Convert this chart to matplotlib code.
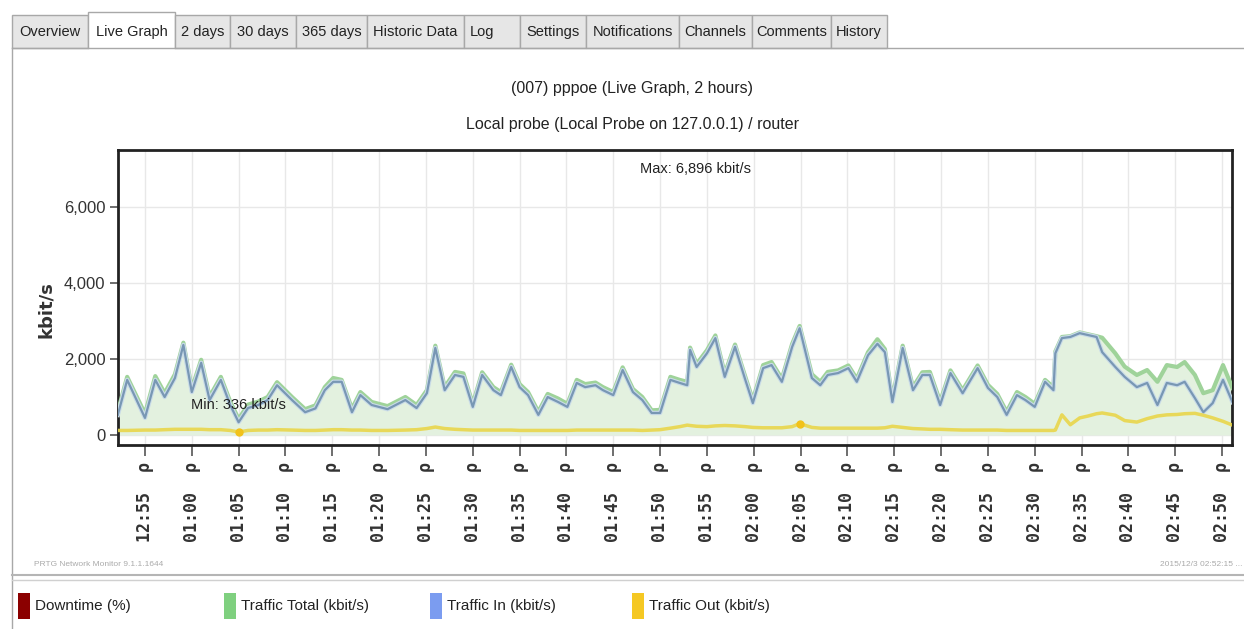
import matplotlib
matplotlib.use("Agg")
import matplotlib.pyplot as plt
from matplotlib.patches import Rectangle
import numpy as np

plt.rcParams["font.family"] = ["Liberation Sans Narrow", "Liberation Sans", "DejaVu Sans"]

# ── Data (minutes after 12:55, kbit/s) ───────────────────────────────────────
minutes = [
    -2.9, -1.9, 0.0, 1.1, 2.1, 3.2, 4.1, 5.0, 6.0, 6.9, 8.1, 9.1, 10.0, 11.0,
    12.1, 13.1, 14.1, 15.7, 17.1, 18.2, 19.2, 20.1, 21.0, 22.1, 23.0, 24.2,
    25.9, 27.8, 29.0, 30.1, 31.0, 32.0, 33.1, 34.0, 35.0, 36.0, 37.2, 38.0,
    39.1, 40.0, 40.9, 42.0, 43.0, 44.1, 45.1, 46.1, 47.0, 48.1, 48.9, 50.0,
    51.0, 52.1, 53.1, 54.1, 55.0, 56.1, 57.1, 57.9, 58.2, 58.9, 60.0, 60.9,
    61.9, 63.0, 64.1, 64.9, 66.0, 66.9, 68.0, 69.1, 69.9, 71.2, 72.1, 72.9,
    74.0, 75.1, 76.0, 77.2, 78.2, 79.0, 79.8, 80.9, 82.0, 83.0, 83.8, 84.9,
    86.0, 87.3, 88.9, 90.0, 91.0, 92.0, 93.1, 94.0, 95.0, 96.1, 97.0, 97.2,
    97.9, 98.8, 99.8, 100.7, 101.6, 102.2, 103.6, 104.6, 105.9, 107.0, 108.1,
    109.1, 110.2, 111.0, 112.1, 113.0, 114.0, 115.1, 116.1,
]
traffic_in = [
    530, 1450, 450, 1450, 1000, 1500, 2370, 1130, 1900, 920, 1450, 790, 336, 710,
    790, 920, 1310, 920, 600, 700, 1180, 1400, 1400, 600, 1050, 790,
    680, 920, 710, 1100, 2290, 1180, 1580, 1530, 740, 1580, 1180, 1050,
    1790, 1260, 1050, 530, 1000, 870, 740, 1370, 1260, 1310, 1180, 1050,
    1710, 1130, 920, 580, 580, 1450, 1370, 1310, 2240, 1790, 2150, 2550,
    1530, 2320, 1450, 840, 1760, 1840, 1400, 2320, 2810, 1500, 1310, 1580,
    1630, 1760, 1400, 2100, 2400, 2180, 870, 2290, 1180, 1580, 1580, 790,
    1630, 1100, 1760, 1240, 1000, 530, 1050, 920, 740, 1400, 1180, 2150,
    2550, 2580, 2680, 2630, 2580, 2180, 1790, 1530, 1260, 1370, 790,
    1370, 1310, 1400, 970, 600, 840, 1450, 870,
]
traffic_total = [
    620, 1530, 560, 1550, 1100, 1600, 2430, 1220, 1980, 1010, 1530, 880, 420, 800,
    880, 1000, 1390, 1000, 680, 780, 1260, 1500, 1450, 690, 1130, 870,
    760, 1000, 790, 1180, 2350, 1260, 1660, 1620, 820, 1650, 1260, 1130,
    1850, 1340, 1130, 610, 1080, 960, 820, 1450, 1340, 1380, 1260, 1130,
    1780, 1210, 1000, 650, 660, 1530, 1450, 1400, 2300, 1870, 2230, 2620,
    1620, 2380, 1530, 920, 1840, 1920, 1480, 2400, 2870, 1600, 1400, 1660,
    1700, 1830, 1480, 2180, 2520, 2260, 960, 2350, 1260, 1650, 1660, 880,
    1700, 1180, 1830, 1320, 1080, 610, 1130, 1000, 820, 1450, 1260, 2200,
    2580, 2600, 2700, 2650, 2600, 2560, 2150, 1800, 1580, 1710, 1400,
    1840, 1790, 1920, 1580, 1100, 1180, 1840, 1240,
]
traffic_out = [
    120, 120, 130, 130, 140, 150, 150, 150, 150, 140, 140, 120, 80, 120,
    130, 130, 140, 130, 120, 120, 130, 140, 140, 130, 130, 120,
    120, 130, 140, 170, 210, 170, 150, 140, 130, 130, 130, 130,
    130, 120, 120, 120, 120, 120, 120, 130, 130, 130, 130, 130,
    130, 130, 120, 130, 140, 180, 220, 260, 250, 230, 220, 240,
    250, 240, 220, 200, 190, 190, 190, 220, 300, 200, 180, 180,
    180, 180, 180, 180, 180, 190, 230, 200, 170, 160, 150, 150,
    140, 130, 130, 130, 130, 120, 120, 120, 120, 120, 120, 130,
    530, 270, 450, 500, 560, 580, 520, 380, 340, 430, 500,
    530, 540, 560, 570, 520, 450, 360, 260,
]
marker_minutes = [10.0, 69.9]
max_value = 6896

tick_labels = ["12:55", "01:00", "01:05", "01:10", "01:15", "01:20", "01:25",
               "01:30", "01:35", "01:40", "01:45", "01:50", "01:55", "02:00",
               "02:05", "02:10", "02:15", "02:20", "02:25", "02:30", "02:35",
               "02:40", "02:45", "02:50"]
tick_minutes = [5 * i for i in range(len(tick_labels))]

tabs = ["Overview", "Live Graph", "2 days", "30 days", "365 days", "Historic Data",
        "Log", "Settings", "Notifications", "Channels", "Comments", "History"]
tab_edges = [12, 88, 175, 230, 296, 367, 464, 520, 586, 679, 752, 831, 887]

legend_names = ["Downtime (%)", "Traffic Total (kbit/s)", "Traffic In (kbit/s)",
                "Traffic Out (kbit/s)"]
legend_colors = ["#8b0000", "#7fd07f", "#7b9cf0", "#f5c823"]
legend_x = [18, 224, 430, 632]

c_total = "#9fd39a"
c_in = "#7897b4"
c_out = "#e9d64a"

t = np.array(minutes)
v_in = np.array(traffic_in)
v_tot = np.array(traffic_total)
v_out = np.array(traffic_out)

# ── Figure & background (pixel coordinates) ───────────────────────────────────
fig = plt.figure(figsize=(12.44, 6.29), dpi=100)
bg = fig.add_axes([0, 0, 1, 1])
bg.set_xlim(0, 1244)
bg.set_ylim(629, 0)
bg.axis("off")

# tabs
for i, name in enumerate(tabs):
    x0, x1 = tab_edges[i], tab_edges[i + 1]
    active = name == "Live Graph"
    top = 12 if active else 15
    bg.add_patch(Rectangle((x0, top), x1 - x0, 48 - top,
                           facecolor="white" if active else "#e6e6e6",
                           edgecolor="#a8a8a8", lw=1, zorder=2))
    bg.text((x0 + x1) / 2 if name != "Log" else x0 + 6, 32, name,
            ha="center" if name != "Log" else "left", va="center",
            fontsize=10.5, color="#222222", zorder=3)
bg.plot([12, 88], [48, 48], color="#a8a8a8", lw=1)
bg.plot([175, 1244], [48, 48], color="#a8a8a8", lw=1)
bg.plot([12, 12], [48, 629], color="#a8a8a8", lw=1)
bg.plot([12, 1244], [575, 575], color="#b5b5b5", lw=1.5)
bg.plot([12, 1244], [580, 580], color="#d0d0d0", lw=1)

# titles
bg.text(632, 88, "(007) pppoe (Live Graph, 2 hours)", ha="center", va="center",
        fontsize=11.5, color="#222222")
bg.text(632, 124, "Local probe (Local Probe on 127.0.0.1) / router", ha="center",
        va="center", fontsize=11.5, color="#222222")

# footer
bg.text(34, 564, "PRTG Network Monitor 9.1.1.1644", ha="left", va="center",
        fontsize=6, color="#aaaaaa")
bg.text(1243, 564, "2015/12/3 02:52:15 ...", ha="right", va="center",
        fontsize=6, color="#aaaaaa")

# legend row
for name, col, lx in zip(legend_names, legend_colors, legend_x):
    bg.add_patch(Rectangle((lx, 593), 12, 26, facecolor=col, edgecolor="none"))
    bg.text(lx + 17, 606, name, ha="left", va="center", fontsize=11,
            color="#222222")

# ── Chart ─────────────────────────────────────────────────────────────────────
ax = fig.add_axes([118 / 1244, 1 - 445 / 629, 1114 / 1244, 295 / 629])
ax.set_facecolor("white")

ax.fill_between(t, 0, v_tot, color="#e3f1df", lw=0, zorder=1)
ax.plot(t, v_tot, color=c_total, lw=3, zorder=3)
ax.plot(t, v_in, color="#c9dbe8", lw=3.2, zorder=4)
ax.plot(t, v_in, color=c_in, lw=1.6, zorder=5)
ax.plot(t, v_out, color=c_out, lw=2.5, alpha=0.9, zorder=4)
ax.plot(marker_minutes, np.interp(marker_minutes, t, v_out), "o",
        color="#f2c21a", ms=5, zorder=6)

i_min = int(np.argmin(v_in))
ax.text(t[i_min], v_in[i_min] + 280, f"Min: {v_in[i_min]:,} kbit/s",
        ha="center", va="bottom", fontsize=10.5, color="#222222", zorder=7)
ax.text(58.8, 7000, f"Max: {max_value:,} kbit/s", ha="center", va="center",
        fontsize=10.5, color="#222222", zorder=7)

ax.set_xlim(-2.88, 116.06)
ax.set_ylim(-263, 7500)
ax.set_xticks(tick_minutes)
ax.set_xticklabels([f"{s}  \u03c1" for s in tick_labels], rotation=90,
                   family="DejaVu Sans Mono", fontweight="bold", fontsize=12,
                   color="#333333")
ax.set_yticks([0, 2000, 4000, 6000])
ax.set_yticklabels(["0", "2,000", "4,000", "6,000"], fontsize=12, color="#333333")
ax.set_ylabel("kbit/s", fontsize=13, family="DejaVu Sans", fontweight="bold",
              color="#333333")
ax.yaxis.set_label_coords(-0.057, 0.46)
ax.tick_params(axis="x", length=8, width=1.2, color="#555555", pad=4)
ax.tick_params(axis="y", length=6, width=1.2, color="#555555", pad=3)
ax.grid(True, color="#e8e8e8", lw=1)
ax.set_axisbelow(True)
for s in ax.spines.values():
    s.set_linewidth(2)
    s.set_color("#222222")

fig.savefig("out.png", dpi=100)
